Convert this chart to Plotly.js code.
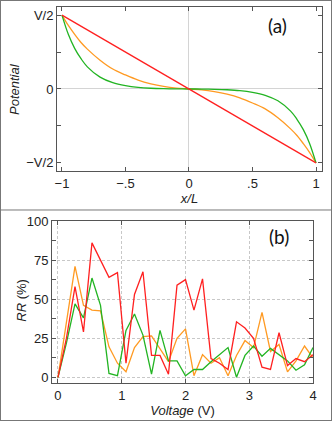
<!DOCTYPE html>
<html>
<head>
<meta charset="utf-8">
<script src="https://cdn.plot.ly/plotly-3.0.1.min.js"></script>
<style>
  html, body { margin: 0; padding: 0; background: #fff; }
  #chart { width: 332px; height: 421px; box-sizing: border-box; border: 1px solid #777; }
</style>
</head>
<body>
<div id="chart"></div>
<script>
// panel (a): potential profiles across the gap
const posX = [-1, -0.95, -0.9, -0.85, -0.8, -0.7, -0.6, -0.5, -0.4, -0.3, -0.2, -0.1, 0,
  0.1, 0.2, 0.3, 0.4, 0.5, 0.6, 0.7, 0.8, 0.85, 0.9, 0.95, 1];
const linearX = [-1, 1];
const linearPot = [1, -1];
const orangePot = [1, 0.86, 0.74, 0.63, 0.54, 0.39, 0.27, 0.19, 0.12, 0.07, 0.035, 0.012, 0,
  -0.012, -0.035, -0.07, -0.12, -0.19, -0.27, -0.39, -0.54, -0.63, -0.74, -0.86, -1];
const greenPot = [1, 0.74, 0.55, 0.41, 0.30, 0.16, 0.085, 0.045, 0.022, 0.01, 0.004, 0.001, 0,
  -0.001, -0.004, -0.01, -0.022, -0.045, -0.085, -0.16, -0.30, -0.41, -0.55, -0.74, -1];

// panel (b): RR (%) against voltage
const voltage = [0, 0.133, 0.267, 0.4, 0.533, 0.667, 0.8, 0.933, 1.067, 1.2, 1.333, 1.467, 1.6,
  1.733, 1.867, 2, 2.133, 2.267, 2.4, 2.533, 2.667, 2.8, 2.933, 3.067, 3.2, 3.333, 3.467, 3.6,
  3.733, 3.867, 4];
const rrRed = [0, 25, 58, 29, 86, 75, 64, 67, 9, 53, 67.5, 14, 14, 2, 59, 62.5, 43, 63, 12, 9,
  5, 35.5, 31.5, 25, 6.5, 5, 28.5, 7.5, 12, 10, 14.5];
const rrOrange = [0, 35, 71, 46, 43, 42.5, 19.5, 9, 3.5, 19, 26, 26.5, 18.5, 10, 25, 31, 1, 14.5,
  9, 12.5, 1, 14, 23.5, 19, 41.5, 16.5, 21, 3.5, 10.5, 20, 12.5];
const rrGreen = [0, 22, 47, 38, 63.5, 46, 2.5, 1, 30, 40.5, 27, 2, 30, 10.5, 10.5, 1, 5, 5, 10,
  14.5, 19, 0, 14, 20, 13.5, 18.5, 14.5, 10.5, 4.5, 8, 19];

const RED = "#ff2020";
const ORANGE = "#ff9a22";
const GREEN = "#22b422";
const FRAME = "#555";
const tickFont = { family: "Liberation Sans, Arial, sans-serif", size: 13, color: "#222" };
const titleFont = { family: "Liberation Sans, Arial, sans-serif", size: 13, color: "#222" };
const panelFont = { family: "Lato, Open Sans, sans-serif", size: 19, color: "#111" };

function line(x, y, color, xa, ya, spline) {
  return {
    type: "scatter", mode: "lines", x: x, y: y, xaxis: xa, yaxis: ya,
    line: { color: color, width: 1.3, shape: spline ? "spline" : "linear" },
    showlegend: false, hoverinfo: "skip"
  };
}

const traces = [
  line(posX, orangePot, ORANGE, "x", "y", true),
  line(posX, greenPot, GREEN, "x", "y", true),
  line(linearX, linearPot, RED, "x", "y", false),
  line(voltage, rrOrange, ORANGE, "x2", "y2", false),
  line(voltage, rrGreen, GREEN, "x2", "y2", false),
  line(voltage, rrRed, RED, "x2", "y2", false)
];

const frameAxis = {
  showline: true, linecolor: FRAME, linewidth: 1, mirror: "ticks",
  ticks: "inside", ticklen: 4, tickcolor: FRAME, tickfont: tickFont, fixedrange: true
};

const layout = {
  width: 330, height: 419,
  margin: { l: 0, r: 0, t: 0, b: 0 },
  paper_bgcolor: "#fff", plot_bgcolor: "#fff",
  xaxis: Object.assign({}, frameAxis, {
    domain: [0.1697, 0.9727], anchor: "y", range: [-1.039, 1.047],
    tickvals: [-1, -0.5, 0, 0.5, 1], ticktext: ["\u22121", "\u2212.5", "0", ".5", "1"],
    showgrid: false, zeroline: true, zerolinecolor: "#d4d4d4", zerolinewidth: 1,
    title: { text: "<i>x/L</i>", font: titleFont, standoff: 4 }
  }),
  yaxis: Object.assign({}, frameAxis, {
    domain: [0.5943, 0.9857], anchor: "x", range: [-1.11, 1.11],
    tickvals: [-1, -0.5, 0, 0.5, 1], ticktext: ["\u2212V/2", "", "0", "", "V/2"],
    showgrid: false, zeroline: true, zerolinecolor: "#d4d4d4", zerolinewidth: 1
  }),
  xaxis2: Object.assign({}, frameAxis, {
    domain: [0.1545, 0.9455], anchor: "y2", range: [-0.094, 4.0],
    tick0: 0, dtick: 1, showgrid: true, gridcolor: "#c8c8c8", griddash: "3px,2px", zeroline: false,
    title: { text: "<i>Voltage</i> (V)", font: titleFont, standoff: 4 }
  }),
  yaxis2: Object.assign({}, frameAxis, {
    domain: [0.0883, 0.4749], anchor: "x2", range: [-3.65, 100],
    tick0: 0, dtick: 25, showgrid: true, gridcolor: "#c8c8c8", griddash: "3px,2px", zeroline: false,
    minor: { dtick: 12.5, ticks: "inside", ticklen: 4, tickcolor: FRAME, showgrid: false }
  }),
  shapes: [
    { type: "line", xref: "paper", yref: "paper", x0: 0, x1: 1, y0: 0.5012, y1: 0.5012,
      line: { color: "#777", width: 1 } }
  ],
  annotations: [
    { text: "<i>Potential</i>", xref: "paper", yref: "paper", x: 0.0424, y: 0.79,
      xanchor: "center", yanchor: "middle", textangle: -90, showarrow: false, font: titleFont },
    { text: "<i>RR</i> (%)", xref: "paper", yref: "paper", x: 0.0627, y: 0.2864,
      xanchor: "center", yanchor: "middle", textangle: -90, showarrow: false, font: titleFont },
    { text: "(a)", xref: "paper", yref: "paper", x: 0.839, y: 0.941,
      xanchor: "center", yanchor: "middle", showarrow: false, font: panelFont },
    { text: "(b)", xref: "paper", yref: "paper", x: 0.842, y: 0.4368,
      xanchor: "center", yanchor: "middle", showarrow: false, font: panelFont }
  ]
};

Plotly.newPlot("chart", traces, layout, { displayModeBar: false, staticPlot: true });
</script>
</body>
</html>
